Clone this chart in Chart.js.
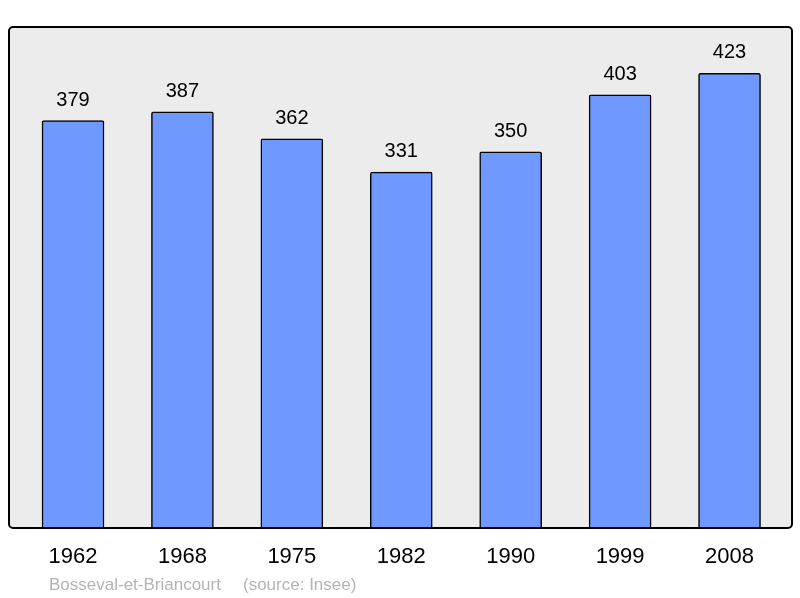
<!DOCTYPE html>
<html>
<head>
<meta charset="utf-8">
<script src="https://cdn.jsdelivr.net/npm/chart.js@4"></script>
<style>
    html, body { margin: 0; padding: 0; background: #fff; }
    #wrap { width: 800px; height: 598px; }
</style>
</head>
<body>
<div id="wrap"><canvas id="popChart" width="800" height="598"></canvas></div>
<script>
// Population data
const years = ["1962", "1968", "1975", "1982", "1990", "1999", "2008"];
const population = [379, 387, 362, 331, 350, 403, 423];
const footerName = "Bosseval-et-Briancourt";
const footerSource = "(source: Insee)";

const FONT = "'Liberation Sans', Arial, sans-serif";

// grey frame behind the bars
const framePlugin = {
    id: "frame",
    beforeDraw(chart) {
        const { ctx, chartArea: a } = chart;
        ctx.save();
        ctx.beginPath();
        ctx.roundRect(a.left, a.top, a.right - a.left, a.bottom - a.top, 4);
        ctx.fillStyle = "#ececec";
        ctx.fill();
        ctx.restore();
    },
    afterDatasetsDraw(chart) {
        const { ctx, chartArea: a } = chart;
        ctx.save();
        ctx.beginPath();
        ctx.roundRect(a.left, a.top, a.right - a.left, a.bottom - a.top, 4);
        ctx.lineWidth = 2;
        ctx.strokeStyle = "#000";
        ctx.stroke();

        // value labels above bars
        const meta = chart.getDatasetMeta(0);
        ctx.font = "20px " + FONT;
        ctx.fillStyle = "#000";
        ctx.textAlign = "center";
        ctx.textBaseline = "alphabetic";
        meta.data.forEach((bar, i) => {
            ctx.fillText(String(population[i]), bar.x, bar.y - 15);
        });

        // footer
        ctx.font = "17px " + FONT;
        ctx.fillStyle = "#b4b4b4";
        ctx.textAlign = "left";
        ctx.fillText(footerName, 49, 590);
        ctx.fillText(footerSource, 243, 590);
        ctx.restore();
    }
};

const ctx = document.getElementById("popChart").getContext("2d");
new Chart(ctx, {
    type: "bar",
    data: {
        datasets: [
            {
                data: population.map((v, i) => ({ x: i, y: v })),
                backgroundColor: "#7099ff",
                borderColor: "#000",
                borderWidth: 1.5,
                borderRadius: 2,
                borderSkipped: "bottom",
                barThickness: 62,
            },
        ],
    },
    options: {
        responsive: false,
        animation: false,
        layout: { padding: { left: 9, right: 8, top: 27, bottom: 0 } },
        plugins: {
            legend: { display: false },
            tooltip: { enabled: false },
        },
        scales: {
            x: {
                type: "linear",
                offset: false,
                min: -0.585,
                max: 6.571,
                grid: { display: false, drawTicks: false },
                border: { display: false },
                afterBuildTicks: (scale) => {
                    scale.ticks = years.map((_, i) => ({ value: i }));
                },
                afterFit: (scale) => {
                    scale.height = 70;
                },
                ticks: {
                    padding: 16,
                    autoSkip: false,
                    maxRotation: 0,
                    color: "#000",
                    font: { family: FONT, size: 22 },
                    callback: (value) => years[value],
                },
            },
            y: {
                display: false,
                min: 0,
                max: 466,
            },
        },
    },
    plugins: [framePlugin],
});
</script>
</body>
</html>
